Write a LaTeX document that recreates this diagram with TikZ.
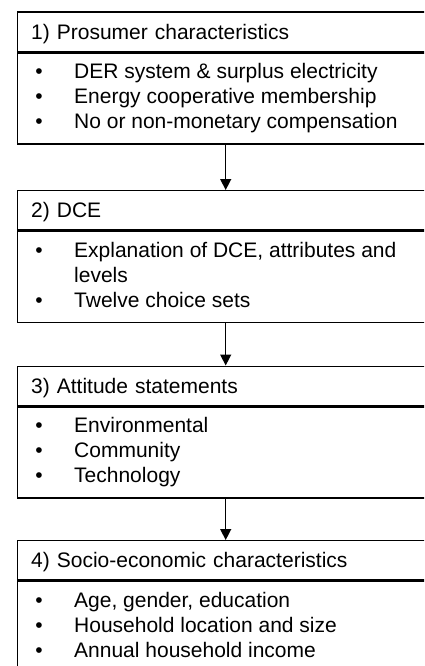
\documentclass[tikz,border=0pt]{standalone}
\usepackage{fontspec}
\setmainfont{Liberation Sans}
\usetikzlibrary{arrows.meta}

\tikzset{
    headbox/.style={draw, anchor=north west, minimum width=416pt, minimum height=39.3pt,
        text width=389pt, align=left, inner xsep=13.5pt, inner ysep=0pt,
        text height=15pt, text depth=0pt},
    bodybox/.style={draw, anchor=north west, minimum width=416pt, minimum height=91pt, inner sep=0pt},
    itemline/.style={anchor=base west, inner sep=0pt},
    flowarrow/.style={-{Triangle[width=11pt,length=11pt]}}
}
\newcommand{\bul}{\makebox[38.9pt][l]{\textbullet}}

\begin{document}
\begin{tikzpicture}[x=1pt, y=-1pt, line width=1.4pt, font=\fontsize{21}{25}\selectfont]
    \useasboundingbox (0,0) rectangle (424,666);
    \clip (0,0) rectangle (424,666);
    % box 1
    \node[headbox] (hdA) at (17,11.5) {1) Prosumer characteristics};
    \node[bodybox] (bdA) at (hdA.south west) {};
    \node[itemline] (itA1) at (34.6,78.8) {\bul DER system \& surplus electricity};
    \node[itemline] (itA2) at (34.6,103.8) {\bul Energy cooperative membership};
    \node[itemline] (itA3) at (34.6,128.8) {\bul No or non-monetary compensation};
    % box 2
    \node[headbox] (hdB) at (17,190) {2) DCE};
    \node[bodybox] (bdB) at (hdB.south west) {};
    \node[itemline] (itB1) at (34.6,257.3) {\bul Explanation of DCE, attributes and};
    \node[itemline] (itB2) at (73.5,282.3) {levels};
    \node[itemline] (itB3) at (34.6,307.3) {\bul Twelve choice sets};
    % box 3
    \node[headbox] (hdC) at (17,365.5) {3) Attitude statements};
    \node[bodybox] (bdC) at (hdC.south west) {};
    \node[itemline] (itC1) at (34.6,432.8) {\bul Environmental};
    \node[itemline] (itC2) at (34.6,457.8) {\bul Community};
    \node[itemline] (itC3) at (34.6,482.8) {\bul Technology};
    % box 4
    \node[headbox] (hdD) at (17,540) {4) Socio-economic characteristics};
    \node[bodybox] (bdD) at (hdD.south west) {};
    \node[itemline] (itD1) at (34.6,607.3) {\bul Age, gender, education};
    \node[itemline] (itD2) at (34.6,632.3) {\bul Household location and size};
    \node[itemline] (itD3) at (34.6,657.3) {\bul Annual household income};
    % arrows
    \draw[flowarrow] (bdA) -- (hdB);
    \draw[flowarrow] (bdB) -- (hdC);
    \draw[flowarrow] (bdC) -- (hdD);
\end{tikzpicture}
\end{document}
